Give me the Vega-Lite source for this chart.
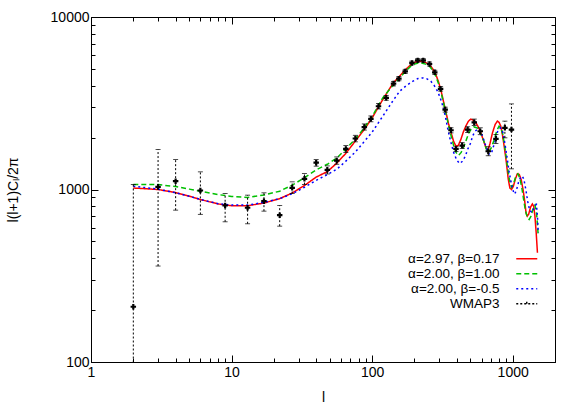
{
  "$schema": "https://vega.github.io/schema/vega-lite/v6.json",
  "width": 464,
  "height": 345,
  "autosize": "none",
  "padding": {"left": 91, "top": 17, "right": 26, "bottom": 45},
  "background": "white",
  "config": {
    "font": "Liberation Sans",
    "view": {"stroke": "black", "strokeWidth": 1},
    "axis": {"grid": false, "domainColor": "black", "tickColor": "black", "labelColor": "black", "titleColor": "black", "labelFontSize": 14, "titleFontSize": 14, "titleFontWeight": "normal", "labelFont": "Liberation Sans", "titleFont": "Liberation Sans"},
    "legend": {"labelFont": "Liberation Sans"}
  },
  "datasets": {
    "curves": [
      {"l":2,"y":1020,"s":"r"},{"l":3,"y":1000,"s":"r"},{"l":4,"y":960,"s":"r"},{"l":5,"y":915,"s":"r"},{"l":6,"y":875,"s":"r"},{"l":8,"y":825,"s":"r"},{"l":10,"y":805,"s":"r"},{"l":13,"y":805,"s":"r"},{"l":17,"y":835,"s":"r"},{"l":22,"y":885,"s":"r"},{"l":27,"y":955,"s":"r"},{"l":33,"y":1055,"s":"r"},{"l":40,"y":1180,"s":"r"},{"l":48,"y":1270,"s":"r"},{"l":56,"y":1420,"s":"r"},{"l":65,"y":1620,"s":"r"},{"l":76,"y":1910,"s":"r"},{"l":88,"y":2230,"s":"r"},{"l":100,"y":2600,"s":"r"},{"l":119,"y":3320,"s":"r"},{"l":140,"y":4100,"s":"r"},{"l":157,"y":4550,"s":"r"},{"l":175,"y":5000,"s":"r"},{"l":194,"y":5400,"s":"r"},{"l":210,"y":5530,"s":"r"},{"l":223,"y":5550,"s":"r"},{"l":240,"y":5450,"s":"r"},{"l":256,"y":5290,"s":"r"},{"l":270,"y":5000,"s":"r"},{"l":284,"y":4640,"s":"r"},{"l":297,"y":4200,"s":"r"},{"l":310,"y":3710,"s":"r"},{"l":323,"y":3200,"s":"r"},{"l":336,"y":2780,"s":"r"},{"l":350,"y":2400,"s":"r"},{"l":365,"y":2130,"s":"r"},{"l":380,"y":1900,"s":"r"},{"l":395,"y":1780,"s":"r"},{"l":410,"y":1800,"s":"r"},{"l":428,"y":1950,"s":"r"},{"l":445,"y":2150,"s":"r"},{"l":464,"y":2330,"s":"r"},{"l":483,"y":2480,"s":"r"},{"l":503,"y":2560,"s":"r"},{"l":525,"y":2520,"s":"r"},{"l":545,"y":2450,"s":"r"},{"l":570,"y":2300,"s":"r"},{"l":594,"y":2130,"s":"r"},{"l":620,"y":1920,"s":"r"},{"l":647,"y":1740,"s":"r"},{"l":665,"y":1670,"s":"r"},{"l":690,"y":1850,"s":"r"},{"l":718,"y":2130,"s":"r"},{"l":750,"y":2380,"s":"r"},{"l":778,"y":2490,"s":"r"},{"l":800,"y":2450,"s":"r"},{"l":823,"y":2330,"s":"r"},{"l":845,"y":2080,"s":"r"},{"l":870,"y":1780,"s":"r"},{"l":900,"y":1450,"s":"r"},{"l":930,"y":1150,"s":"r"},{"l":955,"y":1020,"s":"r"},{"l":980,"y":1000,"s":"r"},{"l":1010,"y":1040,"s":"r"},{"l":1045,"y":1150,"s":"r"},{"l":1080,"y":1235,"s":"r"},{"l":1115,"y":1220,"s":"r"},{"l":1150,"y":1140,"s":"r"},{"l":1185,"y":1000,"s":"r"},{"l":1217,"y":860,"s":"r"},{"l":1245,"y":730,"s":"r"},{"l":1270,"y":700,"s":"r"},{"l":1300,"y":720,"s":"r"},{"l":1340,"y":790,"s":"r"},{"l":1380,"y":825,"s":"r"},{"l":1410,"y":800,"s":"r"},{"l":1440,"y":700,"s":"r"},{"l":1470,"y":560,"s":"r"},{"l":1500,"y":430,"s":"r"},
      {"l":2,"y":1070,"s":"g"},{"l":3,"y":1068,"s":"g"},{"l":4,"y":1040,"s":"g"},{"l":5,"y":1005,"s":"g"},{"l":6,"y":978,"s":"g"},{"l":8,"y":935,"s":"g"},{"l":10,"y":912,"s":"g"},{"l":13,"y":900,"s":"g"},{"l":17,"y":930,"s":"g"},{"l":22,"y":978,"s":"g"},{"l":27,"y":1060,"s":"g"},{"l":33,"y":1170,"s":"g"},{"l":40,"y":1300,"s":"g"},{"l":48,"y":1400,"s":"g"},{"l":56,"y":1520,"s":"g"},{"l":65,"y":1720,"s":"g"},{"l":76,"y":1960,"s":"g"},{"l":88,"y":2280,"s":"g"},{"l":100,"y":2650,"s":"g"},{"l":119,"y":3400,"s":"g"},{"l":140,"y":4000,"s":"g"},{"l":157,"y":4430,"s":"g"},{"l":175,"y":4900,"s":"g"},{"l":194,"y":5290,"s":"g"},{"l":210,"y":5400,"s":"g"},{"l":223,"y":5420,"s":"g"},{"l":240,"y":5330,"s":"g"},{"l":256,"y":5175,"s":"g"},{"l":270,"y":4900,"s":"g"},{"l":284,"y":4530,"s":"g"},{"l":297,"y":4100,"s":"g"},{"l":310,"y":3630,"s":"g"},{"l":323,"y":3150,"s":"g"},{"l":336,"y":2720,"s":"g"},{"l":350,"y":2350,"s":"g"},{"l":365,"y":2040,"s":"g"},{"l":380,"y":1800,"s":"g"},{"l":395,"y":1640,"s":"g"},{"l":412,"y":1575,"s":"g"},{"l":430,"y":1640,"s":"g"},{"l":450,"y":1780,"s":"g"},{"l":470,"y":1960,"s":"g"},{"l":488,"y":2130,"s":"g"},{"l":510,"y":2260,"s":"g"},{"l":530,"y":2306,"s":"g"},{"l":555,"y":2280,"s":"g"},{"l":576,"y":2226,"s":"g"},{"l":600,"y":2050,"s":"g"},{"l":625,"y":1900,"s":"g"},{"l":648,"y":1720,"s":"g"},{"l":675,"y":1645,"s":"g"},{"l":705,"y":1750,"s":"g"},{"l":740,"y":1950,"s":"g"},{"l":772,"y":2200,"s":"g"},{"l":800,"y":2327,"s":"g"},{"l":825,"y":2270,"s":"g"},{"l":850,"y":2098,"s":"g"},{"l":880,"y":1750,"s":"g"},{"l":910,"y":1430,"s":"g"},{"l":945,"y":1150,"s":"g"},{"l":980,"y":1030,"s":"g"},{"l":1015,"y":1080,"s":"g"},{"l":1050,"y":1190,"s":"g"},{"l":1090,"y":1233,"s":"g"},{"l":1125,"y":1160,"s":"g"},{"l":1160,"y":1030,"s":"g"},{"l":1195,"y":880,"s":"g"},{"l":1230,"y":760,"s":"g"},{"l":1270,"y":690,"s":"g"},{"l":1310,"y":670,"s":"g"},{"l":1350,"y":700,"s":"g"},{"l":1400,"y":780,"s":"g"},{"l":1440,"y":812,"s":"g"},{"l":1480,"y":720,"s":"g"},{"l":1520,"y":540,"s":"g"},
      {"l":2,"y":1045,"s":"b"},{"l":3,"y":1005,"s":"b"},{"l":4,"y":958,"s":"b"},{"l":5,"y":915,"s":"b"},{"l":6,"y":875,"s":"b"},{"l":8,"y":828,"s":"b"},{"l":10,"y":812,"s":"b"},{"l":13,"y":812,"s":"b"},{"l":17,"y":842,"s":"b"},{"l":22,"y":885,"s":"b"},{"l":27,"y":945,"s":"b"},{"l":33,"y":1030,"s":"b"},{"l":40,"y":1130,"s":"b"},{"l":48,"y":1220,"s":"b"},{"l":56,"y":1310,"s":"b"},{"l":65,"y":1460,"s":"b"},{"l":76,"y":1650,"s":"b"},{"l":88,"y":1900,"s":"b"},{"l":100,"y":2150,"s":"b"},{"l":119,"y":2657,"s":"b"},{"l":140,"y":3250,"s":"b"},{"l":157,"y":3713,"s":"b"},{"l":175,"y":4000,"s":"b"},{"l":194,"y":4236,"s":"b"},{"l":212,"y":4400,"s":"b"},{"l":230,"y":4434,"s":"b"},{"l":246,"y":4380,"s":"b"},{"l":262,"y":4236,"s":"b"},{"l":277,"y":4000,"s":"b"},{"l":292,"y":3713,"s":"b"},{"l":305,"y":3400,"s":"b"},{"l":319,"y":3037,"s":"b"},{"l":332,"y":2650,"s":"b"},{"l":346,"y":2226,"s":"b"},{"l":362,"y":1900,"s":"b"},{"l":381,"y":1631,"s":"b"},{"l":400,"y":1480,"s":"b"},{"l":420,"y":1414,"s":"b"},{"l":440,"y":1460,"s":"b"},{"l":460,"y":1559,"s":"b"},{"l":480,"y":1720,"s":"b"},{"l":500,"y":1848,"s":"b"},{"l":520,"y":2050,"s":"b"},{"l":540,"y":2176,"s":"b"},{"l":565,"y":2245,"s":"b"},{"l":590,"y":2200,"s":"b"},{"l":615,"y":2000,"s":"b"},{"l":645,"y":1780,"s":"b"},{"l":680,"y":1600,"s":"b"},{"l":712,"y":1660,"s":"b"},{"l":748,"y":1900,"s":"b"},{"l":785,"y":2200,"s":"b"},{"l":820,"y":2277,"s":"b"},{"l":850,"y":2150,"s":"b"},{"l":880,"y":1850,"s":"b"},{"l":910,"y":1550,"s":"b"},{"l":945,"y":1250,"s":"b"},{"l":975,"y":1100,"s":"b"},{"l":1000,"y":1000,"s":"b"},{"l":1030,"y":940,"s":"b"},{"l":1060,"y":980,"s":"b"},{"l":1100,"y":1100,"s":"b"},{"l":1140,"y":1180,"s":"b"},{"l":1170,"y":1194,"s":"b"},{"l":1200,"y":1150,"s":"b"},{"l":1240,"y":1000,"s":"b"},{"l":1280,"y":850,"s":"b"},{"l":1320,"y":760,"s":"b"},{"l":1370,"y":736,"s":"b"},{"l":1410,"y":770,"s":"b"},{"l":1450,"y":810,"s":"b"},{"l":1475,"y":819,"s":"b"},{"l":1500,"y":700,"s":"b"},{"l":1520,"y":560,"s":"b"}
    ],
    "wmap": [
      {"l":2,"y":209,"lo":10,"hi":1069,"s":"w"},
      {"l":3,"y":1036,"lo":360,"hi":1705,"s":"w"},
      {"l":4,"y":1117,"lo":759,"hi":1492,"s":"w"},
      {"l":6,"y":987,"lo":717,"hi":1266,"s":"w"},
      {"l":9,"y":808,"lo":650,"hi":948,"s":"w"},
      {"l":13,"y":784,"lo":633,"hi":927,"s":"w"},
      {"l":17,"y":856,"lo":749,"hi":957,"s":"w"},
      {"l":22,"y":710,"lo":613,"hi":808,"s":"w"},
      {"l":27,"y":1023,"lo":948,"hi":1108,"s":"w"},
      {"l":33,"y":1153,"lo":1069,"hi":1238,"s":"w"},
      {"l":40,"y":1430,"lo":1365,"hi":1492,"s":"w"},
      {"l":48,"y":1300,"lo":1230,"hi":1370,"s":"w"},
      {"l":56,"y":1472,"lo":1400,"hi":1545,"s":"w"},
      {"l":65,"y":1720,"lo":1640,"hi":1800,"s":"w"},
      {"l":76,"y":1975,"lo":1890,"hi":2060,"s":"w"},
      {"l":88,"y":2300,"lo":2210,"hi":2400,"s":"w"},
      {"l":98,"y":2567,"lo":2470,"hi":2670,"s":"w"},
      {"l":111,"y":3037,"lo":2930,"hi":3150,"s":"w"},
      {"l":126,"y":3398,"lo":3290,"hi":3510,"s":"w"},
      {"l":142,"y":4110,"lo":3990,"hi":4230,"s":"w"},
      {"l":155,"y":4392,"lo":4270,"hi":4520,"s":"w"},
      {"l":172,"y":4840,"lo":4710,"hi":4970,"s":"w"},
      {"l":192,"y":5414,"lo":5280,"hi":5550,"s":"w"},
      {"l":211,"y":5604,"lo":5470,"hi":5740,"s":"w"},
      {"l":231,"y":5604,"lo":5470,"hi":5740,"s":"w"},
      {"l":256,"y":5340,"lo":5200,"hi":5480,"s":"w"},
      {"l":279,"y":4778,"lo":4650,"hi":4910,"s":"w"},
      {"l":307,"y":3831,"lo":3720,"hi":3950,"s":"w"},
      {"l":331,"y":2905,"lo":2810,"hi":3000,"s":"w"},
      {"l":364,"y":2205,"lo":2130,"hi":2280,"s":"w"},
      {"l":395,"y":1720,"lo":1660,"hi":1780,"s":"w"},
      {"l":437,"y":1798,"lo":1730,"hi":1870,"s":"w"},
      {"l":478,"y":2226,"lo":2140,"hi":2310,"s":"w"},
      {"l":533,"y":2452,"lo":2350,"hi":2560,"s":"w"},
      {"l":588,"y":2176,"lo":2080,"hi":2280,"s":"w"},
      {"l":670,"y":1666,"lo":1570,"hi":1770,"s":"w"},
      {"l":760,"y":1966,"lo":1848,"hi":2083,"s":"w"},
      {"l":880,"y":2277,"lo":1994,"hi":2490,"s":"w"},
      {"l":980,"y":2226,"lo":1318,"hi":3135,"s":"w"}
    ]
  },
  "resolve": {"axis": {"x": "independent", "y": "independent"}},
  "layer": [
    {
      "data": {"name": "curves"},
      "mark": {"type": "line", "strokeWidth": 1.5, "clip": true},
      "encoding": {
        "x": {"field": "l", "type": "quantitative",
          "scale": {"type": "log", "domain": [1, 2000], "nice": false},
          "axis": {"orient": "bottom", "title": "l", "titlePadding": 8,
            "values": [1,2,3,4,5,6,7,8,9,10,20,30,40,50,60,70,80,90,100,200,300,400,500,600,700,800,900,1000,2000],
            "labelExpr": "indexof([1,10,100,1000], datum.value) >= 0 ? datum.value : ''",
            "tickSize": {"condition": {"test": "indexof([1,10,100,1000], datum.value) >= 0", "value": -7}, "value": -4},
            "labelPadding": 10, "labelFlush": false, "labelOverlap": false}},
        "y": {"field": "y", "type": "quantitative",
          "scale": {"type": "log", "domain": [100, 10000], "nice": false},
          "axis": {"orient": "left", "title": "l(l+1)Cₗ/2π", "titlePadding": 30,
            "values": [100,200,300,400,500,600,700,800,900,1000,2000,3000,4000,5000,6000,7000,8000,9000,10000],
            "labelExpr": "indexof([100,1000,10000], datum.value) >= 0 ? datum.value : ''",
            "tickSize": {"condition": {"test": "indexof([100,1000,10000], datum.value) >= 0", "value": -7}, "value": -4},
            "labelPadding": 9, "labelOverlap": false}},
        "color": {"field": "s", "type": "nominal",
          "scale": {"domain": ["r","g","b","w"], "range": ["#ff0000","#00c000","#0000ff","#000000"]},
          "legend": {"title": null, "orient": "none", "legendX": 429, "legendY": 235,
            "symbolType": "M-3,0H3", "symbolSize": 49, "symbolStrokeWidth": 1.5,
            "labelAlign": "right", "labelOffset": -34, "labelFontSize": 13.5, "labelColor": "black",
            "rowPadding": 0, "labelLimit": 300,
            "encode": {"symbols": {"update": {"shape": {"signal": "datum.value === 'w' ? 'M-3,0H3M0,-0.6V0.6' : 'M-3,0H3'"}}}},
            "labelExpr": "datum.value == 'r' ? 'α=2.97, β=0.17' : datum.value == 'g' ? 'α=2.00, β=1.00' : datum.value == 'b' ? 'α=2.00, β=-0.5' : 'WMAP3'"}},
        "strokeDash": {"field": "s", "type": "nominal",
          "scale": {"domain": ["r","g","b","w"], "range": [[1,0],[5,3],[2,3],[2,2]]},
          "legend": {"title": null, "orient": "none", "legendX": 429, "legendY": 235,
            "symbolType": "M-3,0H3", "symbolSize": 49, "symbolStrokeWidth": 1.5,
            "labelAlign": "right", "labelOffset": -34, "labelFontSize": 13.5, "labelColor": "black",
            "rowPadding": 0, "labelLimit": 300,
            "encode": {"symbols": {"update": {"shape": {"signal": "datum.value === 'w' ? 'M-3,0H3M0,-0.6V0.6' : 'M-3,0H3'"}}}},
            "labelExpr": "datum.value == 'r' ? 'α=2.97, β=0.17' : datum.value == 'g' ? 'α=2.00, β=1.00' : datum.value == 'b' ? 'α=2.00, β=-0.5' : 'WMAP3'"}}
      }
    },
    {
      "data": {"name": "wmap"},
      "mark": {"type": "rule", "strokeWidth": 1, "clip": true},
      "encoding": {
        "x": {"field": "l", "type": "quantitative", "axis": null},
        "y": {"field": "lo", "type": "quantitative", "axis": null},
        "y2": {"field": "hi"},
        "color": {"field": "s", "type": "nominal"},
        "strokeDash": {"field": "s", "type": "nominal"}
      }
    },
    {
      "data": {"name": "wmap"},
      "mark": {"type": "tick", "orient": "horizontal", "size": 5, "thickness": 1, "color": "black", "clip": true},
      "encoding": {
        "x": {"field": "l", "type": "quantitative", "axis": null},
        "y": {"field": "lo", "type": "quantitative", "axis": null}
      }
    },
    {
      "data": {"name": "wmap"},
      "mark": {"type": "tick", "orient": "horizontal", "size": 5, "thickness": 1, "color": "black", "clip": true},
      "encoding": {
        "x": {"field": "l", "type": "quantitative", "axis": null},
        "y": {"field": "hi", "type": "quantitative", "axis": null}
      }
    },
    {
      "data": {"name": "wmap"},
      "mark": {"type": "point", "shape": "cross", "size": 30, "filled": true, "color": "black", "opacity": 1},
      "encoding": {
        "x": {"field": "l", "type": "quantitative",
          "axis": {"orient": "top", "title": null, "labels": false, "domain": false,
            "values": [1,2,3,4,5,6,7,8,9,10,20,30,40,50,60,70,80,90,100,200,300,400,500,600,700,800,900,1000,2000],
            "tickSize": {"condition": {"test": "indexof([1,10,100,1000], datum.value) >= 0", "value": -7}, "value": -4}}},
        "y": {"field": "y", "type": "quantitative",
          "axis": {"orient": "right", "title": null, "labels": false, "domain": false,
            "values": [100,200,300,400,500,600,700,800,900,1000,2000,3000,4000,5000,6000,7000,8000,9000,10000],
            "tickSize": {"condition": {"test": "indexof([100,1000,10000], datum.value) >= 0", "value": -7}, "value": -4}}}
      }
    }
  ]
}
